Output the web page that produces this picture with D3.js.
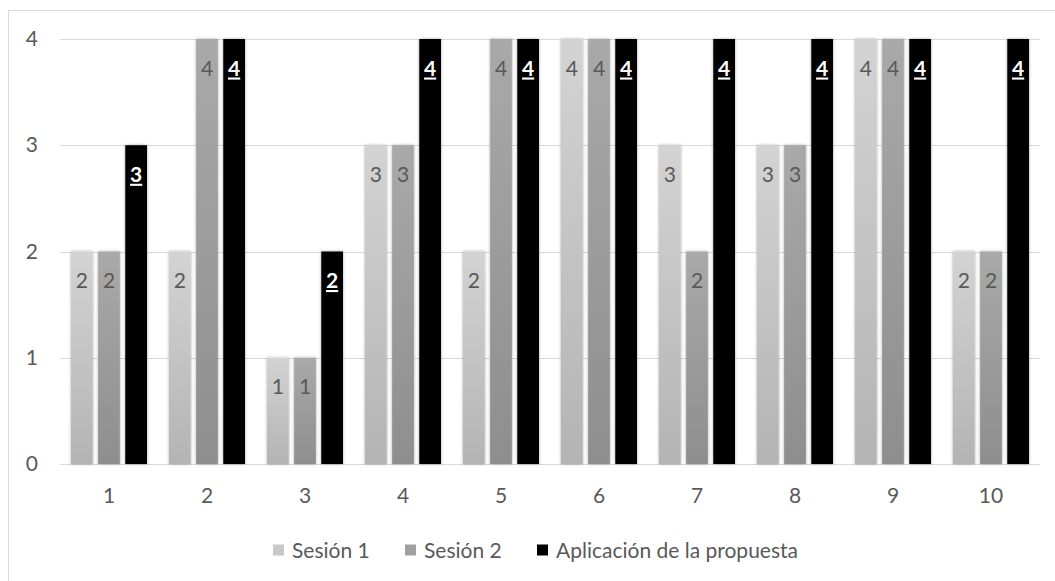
<!DOCTYPE html>
<html>
<head>
<meta charset="utf-8">
<script src="https://cdn.jsdelivr.net/npm/d3@7"></script>
<style>
  html, body { margin: 0; padding: 0; background: #fff; }
  svg { display: block; }
  text { font-family: Lato, "Open Sans", sans-serif; }
</style>
</head>
<body>
<div id="chart"></div>
<script>
// Evaluation by student, three moments
const categories = ["1", "2", "3", "4", "5", "6", "7", "8", "9", "10"];
const seriesNames = ["Sesión 1", "Sesión 2", "Aplicación de la propuesta"];
const sesion1 = [2, 2, 1, 3, 2, 4, 3, 3, 4, 2];
const sesion2 = [2, 4, 1, 3, 4, 4, 2, 3, 4, 2];
const aplicacion = [3, 4, 2, 4, 4, 4, 4, 4, 4, 4];
const yTicks = [0, 1, 2, 3, 4];

const W = 1055, H = 581;
const plot = { left: 60, right: 1040, top: 39, bottom: 464 };
const FONT = "21px";
const FAMILY = "Lato, 'Open Sans', sans-serif";

const svg = d3.select("#chart").append("svg")
  .attr("width", W).attr("height", H);

const defs = svg.append("defs");
function grad(id, top, bottom) {
  const g = defs.append("linearGradient").attr("id", id)
    .attr("x1", 0).attr("y1", 0).attr("x2", 0).attr("y2", 1);
  g.append("stop").attr("offset", "0%").attr("stop-color", top);
  g.append("stop").attr("offset", "100%").attr("stop-color", bottom);
}
grad("g1", "#d3d3d3", "#b4b4b4");
grad("g2", "#a9a9a9", "#8e8e8e");
const shadow = defs.append("filter").attr("id", "shadow")
  .attr("x", "-40%").attr("y", "-5%").attr("width", "180%").attr("height", "110%");
shadow.append("feDropShadow").attr("dx", 0).attr("dy", 0)
  .attr("stdDeviation", 1.6).attr("flood-color", "#000").attr("flood-opacity", 0.35);

// Outer frame
svg.append("rect").attr("x", 8.5).attr("y", 10.5)
  .attr("width", W + 20).attr("height", H + 20)
  .attr("fill", "none").attr("stroke", "#d9d9d9").attr("stroke-width", 1);

const y = d3.scaleLinear().domain([0, 4]).range([plot.bottom, plot.top]);
const x0 = d3.scaleBand().domain(categories).range([plot.left, plot.right])
  .paddingInner(0.2245).paddingOuter(0.1122);
const x1 = d3.scaleBand().domain([0, 1, 2]).range([0, x0.bandwidth()])
  .paddingInner(0.2).paddingOuter(0);

// Gridlines
svg.append("g").selectAll("line").data(yTicks).join("line")
  .attr("x1", plot.left).attr("x2", plot.right)
  .attr("y1", d => Math.round(y(d)) + 0.5).attr("y2", d => Math.round(y(d)) + 0.5)
  .attr("stroke", "#d9d9d9").attr("stroke-width", 1);

// Y axis labels
const yAxis = d3.axisLeft(y).tickValues(yTicks).tickSize(0).tickPadding(0).tickFormat(d3.format("d"));
const gy = svg.append("g").attr("transform", `translate(${plot.left - 22},0)`).call(yAxis);
gy.select(".domain").remove();
gy.selectAll("text").attr("fill", "#595959").style("font-size", FONT)
  .style("font-family", FAMILY);

// X axis labels
const xAxis = d3.axisBottom(x0).tickSize(0).tickPadding(0);
const gx = svg.append("g").attr("transform", `translate(0,${plot.bottom + 24})`).call(xAxis);
gx.select(".domain").remove();
gx.selectAll("text").attr("fill", "#595959").style("font-size", FONT)
  .style("font-family", FAMILY);

const series = [sesion1, sesion2, aplicacion];
const fills = ["url(#g1)", "url(#g2)", "#000"];

const groups = svg.append("g").selectAll("g").data(categories).join("g")
  .attr("transform", c => `translate(${x0(c)},0)`);

groups.each(function (c, i) {
  const g = d3.select(this);
  series.forEach((vals, s) => {
    const v = vals[i];
    g.append("rect")
      .attr("x", x1(s)).attr("width", x1.bandwidth())
      .attr("y", y(v)).attr("height", y(0) - y(v))
      .attr("fill", fills[s])
      .attr("filter", "url(#shadow)");
  });
  series.forEach((vals, s) => {
    const v = vals[i];
    const t = g.append("text")
      .attr("x", x1(s) + x1.bandwidth() / 2)
      .attr("y", y(v) + 36.5)
      .attr("text-anchor", "middle")
      .style("font-size", FONT)
      .text(v);
    if (s === 2) {
      t.attr("fill", "#fff").style("font-weight", "bold")
        .style("text-decoration", "underline");
    } else {
      t.attr("fill", "#595959");
    }
  });
});

// Legend
const legendItems = [
  { name: seriesNames[0], color: "#c8c8c8", x: 273 },
  { name: seriesNames[1], color: "#a0a0a0", x: 405 },
  { name: seriesNames[2], color: "#000000", x: 537 }
];
const lg = svg.append("g").selectAll("g").data(legendItems).join("g")
  .attr("transform", d => `translate(${d.x},550)`);
lg.append("rect").attr("x", 0).attr("y", -5.5).attr("width", 11).attr("height", 11)
  .attr("fill", d => d.color);
lg.append("text").attr("x", 19).attr("y", 7.5)
  .attr("fill", "#595959").style("font-size", FONT)
  .text(d => d.name);
</script>
</body>
</html>
